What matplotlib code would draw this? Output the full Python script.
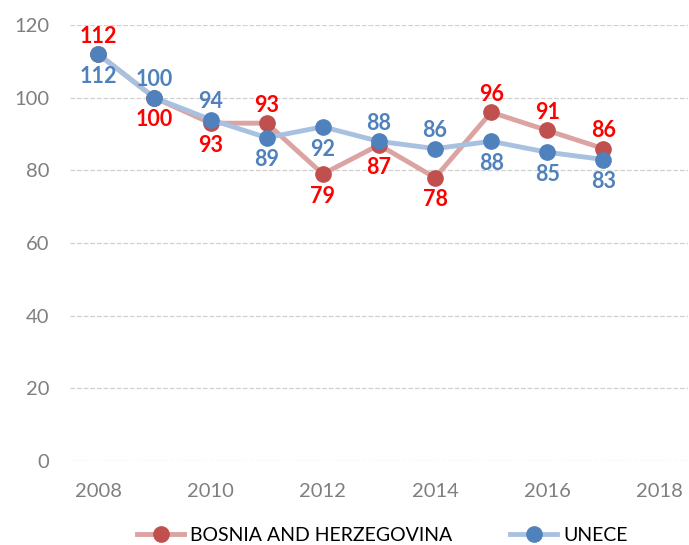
import matplotlib
matplotlib.use("Agg")
import matplotlib.pyplot as plt

years = [2008, 2009, 2010, 2011, 2012, 2013, 2014, 2015, 2016, 2017]
bih = [112, 100, 93, 93, 79, 87, 78, 96, 91, 86]
unece = [112, 100, 94, 89, 92, 88, 86, 88, 85, 83]
# label side: +1 above, -1 below
bih_side = [1, -1, -1, 1, -1, -1, -1, 1, 1, 1]
unece_side = [-1, 1, 1, -1, -1, 1, 1, -1, -1, -1]

plt.rcParams["font.family"] = ["Lato", "DejaVu Sans"]


def offset(s):
    return 13 if s > 0 else -16


fig = plt.figure(figsize=(6.89, 5.45), dpi=100)
ax = fig.add_axes([0.102, 0.154, 0.896, 0.8])

ax.plot(years, bih, color="#dba3a2", lw=3.5, marker="o", ms=11,
        mfc="#c0504d", mec="#c0504d", label="BOSNIA AND HERZEGOVINA", zorder=3)
ax.plot(years, unece, color="#a9c1e0", lw=3.5, marker="o", ms=11,
        mfc="#4f81bd", mec="#4f81bd", label="UNECE", zorder=4)

for x, v, s in zip(years, bih, bih_side):
    ax.annotate(str(v), (x, v), xytext=(0, offset(s)), textcoords="offset points",
                ha="center", va="center", color="#ff0000", fontsize=15.5,
                fontweight="bold", zorder=5)
for x, v, s in zip(years, unece, unece_side):
    ax.annotate(str(v), (x, v), xytext=(0, offset(s)), textcoords="offset points",
                ha="center", va="center", color="#4f81bd", fontsize=15.5,
                fontweight="bold", zorder=5)

ax.set_xlim(2007.5, 2018.5)
ax.set_ylim(0, 120)
ax.set_xticks(range(2008, 2019, 2))
ax.set_yticks(range(0, 121, 20))
ax.tick_params(length=0, labelsize=14.5, labelcolor="#7f7f7f")
ax.tick_params(axis="x", pad=16)
ax.tick_params(axis="y", pad=15)
ax.grid(axis="y", color="#d0d0d0", ls="--", lw=0.9)
ax.set_axisbelow(True)
for sp in ax.spines.values():
    sp.set_visible(False)

fig.legend(loc="lower center", bbox_to_anchor=(0.555, -0.03), ncol=2,
           frameon=False, fontsize=14, handlelength=2.4, handletextpad=0.3,
           columnspacing=3.0, labelcolor="#000000")

fig.savefig("out.png", dpi=100)
